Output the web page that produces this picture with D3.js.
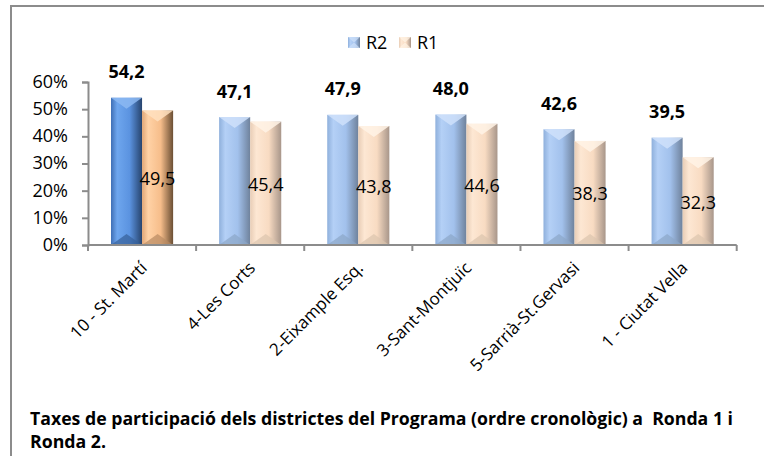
<!DOCTYPE html>
<html>
<head>
<meta charset="utf-8">
<script src="https://cdn.jsdelivr.net/npm/d3@7"></script>
<style>
  body { margin: 0; background: #fff; }
  svg { display: block; font-family: "Open Sans", sans-serif; }
  text { white-space: pre; }
</style>
</head>
<body>
<svg id="chart" width="764" height="456"></svg>
<script>
var categories = ["10 - St. Martí", "4-Les Corts", "2-Eixample Esq.", "3-Sant-Montjuïc", "5-Sarrià-St.Gervasi", "1 - Ciutat Vella"];
var seriesNames = ["R2", "R1"];
var r2Values = [54.2, 47.1, 47.9, 48.0, 42.6, 39.5];
var r1Values = [49.5, 45.4, 43.8, 44.6, 38.3, 32.3];
var yTicks = [0, 10, 20, 30, 40, 50, 60];
var titleLines = ["Taxes de participació dels districtes del Programa (ordre cronològic) a  Ronda 1 i", "Ronda 2."];

var svg = d3.select("#chart");

// frame (only top and left edge visible)
svg.append("path")
    .attr("d", "M11,456V6H764")
    .attr("fill", "none")
    .attr("stroke", "#8c8c8c")
    .attr("stroke-width", 2);

var x = d3.scaleBand()
    .domain(categories)
    .range([88, 736.7]);

var xs = d3.scaleBand()
    .domain(seriesNames)
    .range([23, x.bandwidth() - 23]);

var y = d3.scaleLinear()
    .domain([0, 60])
    .range([245, 82]);

// gradients
var palettes = {
  R2hi: ["#3f6fb5", "#6ea6ee", "#5b93e0", "#27446e"],
  R1hi: ["#e0a676", "#ffd2a6", "#f6bd8a", "#6b4f34"],
  R2: ["#8fb0dc", "#b4d0f6", "#a2c1ec", "#6f829c"],
  R1: ["#e8cdb6", "#fde7d3", "#f8dbc2", "#a8968a"]
};
var defs = svg.append("defs");
Object.keys(palettes).forEach(function(k) {
  var g = defs.append("linearGradient").attr("id", "g" + k)
      .attr("x1", 0).attr("x2", 1).attr("y1", 0).attr("y2", 0);
  var p = palettes[k];
  [[0, p[0]], [0.2, p[1]], [0.6, p[2]], [1, p[3]]].forEach(function(s) {
    g.append("stop").attr("offset", s[0]).attr("stop-color", s[1]);
  });
});

var data = categories.map(function(c, i) {
  return {cat: c, i: i, vals: [{s: "R2", v: r2Values[i]}, {s: "R1", v: r1Values[i]}]};
});

var group = svg.selectAll("g.cat")
    .data(data)
  .enter().append("g")
    .attr("class", "cat")
    .attr("transform", function(d) { return "translate(" + x(d.cat) + ",0)"; });

var bar = group.selectAll("g.bar")
    .data(function(d) { return d.vals.map(function(v) { return {s: v.s, v: v.v, hi: d.i === 0}; }); })
  .enter().append("g")
    .attr("class", "bar");

bar.append("rect")
    .attr("x", function(d) { return xs(d.s); })
    .attr("y", function(d) { return y(d.v); })
    .attr("width", xs.bandwidth())
    .attr("height", function(d) { return y(0) - y(d.v); })
    .attr("fill", function(d) { return "url(#g" + d.s + (d.hi ? "hi" : "") + ")"; });

// top bevel
bar.append("path")
    .attr("d", function(d) {
      var x0 = xs(d.s), w = xs.bandwidth(), t = y(d.v);
      return "M" + x0 + "," + t + "H" + (x0 + w) + "L" + (x0 + w / 2) + "," + (t + 11) + "Z";
    })
    .attr("fill", function(d) { return d.s === "R2" ? (d.hi ? "#8cb8f2" : "#cfe1fa") : (d.hi ? "#ffe0c0" : "#fff3e6"); })
    .attr("opacity", 0.85);

// bottom bevel
bar.append("path")
    .attr("d", function(d) {
      var x0 = xs(d.s), w = xs.bandwidth(), b = y(0);
      return "M" + x0 + "," + b + "H" + (x0 + w) + "L" + (x0 + w / 2) + "," + (b - 11) + "Z";
    })
    .attr("fill", function(d) { return d.s === "R2" ? (d.hi ? "#365f99" : "#8ca6c8") : (d.hi ? "#b88a62" : "#dcc4ae"); })
    .attr("opacity", 0.7);

// labels
var fmt = function(v) { return d3.format(".1f")(v).replace(".", ","); };

group.append("text")
    .attr("x", xs("R2") + xs.bandwidth() / 2)
    .attr("y", function(d) { return y(d.vals[0].v) - 19.5; })
    .attr("text-anchor", "middle")
    .attr("font-weight", "bold")
    .attr("font-size", 18)
    .text(function(d) { return fmt(d.vals[0].v); });

group.append("text")
    .attr("x", xs("R1") + xs.bandwidth() / 2)
    .attr("y", function(d) { return y(d.vals[1].v / 2) + 7.5; })
    .attr("text-anchor", "middle")
    .attr("font-size", 18)
    .text(function(d) { return fmt(d.vals[1].v); });

// y axis
var yAxis = svg.append("g")
    .attr("transform", "translate(88,0)")
    .call(d3.axisLeft(y).tickValues(yTicks).tickSize(6).tickPadding(14).tickFormat(function(d) { return d + "%"; }));
yAxis.attr("font-family", null).attr("font-size", null);
yAxis.selectAll("text").attr("font-size", 18).attr("fill", "#000").attr("dy", "0.3em");
yAxis.selectAll("line, path").attr("stroke", "#8c8c8c").attr("stroke-width", 2);

// x axis
var xEdges = categories.map(function(c) { return x(c); }).concat([x.range()[1]]);
var xAxis = svg.append("g");
xAxis.append("line")
    .attr("x1", x.range()[0]).attr("x2", x.range()[1])
    .attr("y1", y(0)).attr("y2", y(0))
    .attr("stroke", "#8c8c8c").attr("stroke-width", 2);
xAxis.selectAll("line.tick")
    .data(xEdges)
  .enter().append("line")
    .attr("class", "tick")
    .attr("x1", function(d) { return d; }).attr("x2", function(d) { return d; })
    .attr("y1", y(0)).attr("y2", y(0) + 6)
    .attr("stroke", "#8c8c8c").attr("stroke-width", 2);
xAxis.selectAll("text")
    .data(categories)
  .enter().append("text")
    .attr("transform", function(d) { return "translate(" + (x(d) + x.bandwidth() / 2 + 6) + ",269) rotate(-45)"; })
    .attr("text-anchor", "end")
    .attr("font-size", 17)
    .text(function(d) { return d; });

// legend
var legend = svg.append("g").selectAll("g")
    .data(seriesNames)
  .enter().append("g")
    .attr("transform", function(d, i) { return "translate(" + (348 + i * 51) + ",37)"; });
legend.append("rect")
    .attr("width", 12).attr("height", 11)
    .attr("fill", function(d) { return "url(#g" + d + ")"; });
legend.append("path")
    .attr("d", "M0,0H12L6,5.5Z M0,11H12L6,5.5Z")
    .attr("fill", function(d) { return d === "R2" ? "#cfe1fa" : "#fff3e6"; })
    .attr("opacity", 0.7);
legend.append("text")
    .attr("x", 18).attr("y", 12)
    .attr("font-size", 18)
    .text(function(d) { return d; });

// caption
var titleWidths = [703, 76];
svg.append("g").selectAll("text")
    .data(titleLines)
  .enter().append("text")
    .attr("x", 30)
    .attr("y", function(d, i) { return 425 + i * 23; })
    .attr("font-weight", "bold")
    .attr("font-size", 18)
    .attr("textLength", function(d, i) { return titleWidths[i]; })
    .attr("lengthAdjust", "spacingAndGlyphs")
    .text(function(d) { return d; });
</script>
</body>
</html>
